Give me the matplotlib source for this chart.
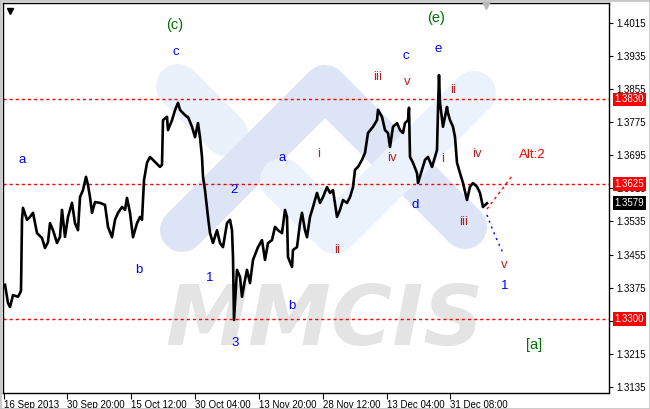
import matplotlib
matplotlib.use("Agg")
import matplotlib.pyplot as plt
import matplotlib.transforms as mtransforms
from matplotlib.patches import Rectangle

plt.rcParams['font.family'] = ['Liberation Sans', 'DejaVu Sans']

# price path (bar index, price)
bar_idx = [2, 5, 7, 10, 15, 17, 18, 19, 20, 24, 27, 30, 34, 39, 42, 45, 47, 50, 54, 57,
           59, 62, 65, 69, 72, 75, 77, 80, 83, 85, 87, 89, 92, 97, 102, 105, 109, 112, 115, 119,
           122, 124, 127, 130, 134, 137, 139, 141, 144, 147, 152, 157, 159, 160, 164, 165, 169, 172, 175, 177,
           180, 184, 185, 189, 192, 195, 197, 199, 200, 202, 205, 207, 210, 214, 217, 220, 224, 227, 229, 230,
           231, 234, 237, 239, 242, 244, 247, 250, 255, 259, 262, 265, 269, 272, 275, 279, 282, 284, 285, 289,
           290, 294, 297, 299, 302, 304, 307, 310, 314, 317, 320, 324, 327, 330, 334, 337, 340, 344, 347, 350,
           352, 355, 359, 362, 365, 370, 374, 375, 379, 382, 385, 387, 390, 394, 397, 400, 402, 405, 406, 407,
           410, 414, 415, 419, 422, 425, 429, 432, 434, 435, 436, 437, 440, 444, 445, 447, 450, 452, 454, 457,
           460, 464, 467, 470, 474, 477, 480, 484]
close = [1.3382, 1.3338, 1.3328, 1.3357, 1.3353, 1.3362, 1.3368, 1.3539, 1.3568, 1.3539, 1.3546, 1.3556, 1.3507, 1.3495, 1.3471, 1.3485, 1.3531, 1.3514, 1.3483, 1.3498,
         1.3563, 1.3498, 1.3546, 1.3580, 1.3531, 1.3514, 1.3594, 1.3611, 1.3643, 1.3623, 1.3594, 1.3556, 1.3582, 1.3580, 1.3575, 1.3522, 1.3497, 1.3539, 1.3556, 1.3570,
         1.3563, 1.3592, 1.3556, 1.3497, 1.3531, 1.3546, 1.3539, 1.3635, 1.3677, 1.3691, 1.3679, 1.3667, 1.3672, 1.3780, 1.3788, 1.3756, 1.3780, 1.3804, 1.3822, 1.3805,
         1.3797, 1.3788, 1.3788, 1.3764, 1.3739, 1.3773, 1.3739, 1.3691, 1.3643, 1.3611, 1.3546, 1.3507, 1.3483, 1.3514, 1.3483, 1.3473, 1.3531, 1.3539, 1.3514, 1.3449,
         1.3297, 1.3418, 1.3401, 1.3353, 1.3394, 1.3418, 1.3386, 1.3442, 1.3473, 1.3490, 1.3442, 1.3483, 1.3490, 1.3522, 1.3514, 1.3507, 1.3563, 1.3546, 1.3449, 1.3425,
         1.3466, 1.3473, 1.3531, 1.3556, 1.3514, 1.3497, 1.3546, 1.3570, 1.3604, 1.3580, 1.3594, 1.3618, 1.3604, 1.3611, 1.3546, 1.3563, 1.3587, 1.3580, 1.3594, 1.3618,
         1.3660, 1.3667, 1.3684, 1.3701, 1.3749, 1.3764, 1.3780, 1.3805, 1.3788, 1.3756, 1.3749, 1.3715, 1.3764, 1.3773, 1.3756, 1.3749, 1.3773, 1.3780, 1.3810, 1.3691,
         1.3677, 1.3652, 1.3628, 1.3660, 1.3684, 1.3691, 1.3667, 1.3691, 1.3708, 1.3805, 1.3889, 1.3822, 1.3764, 1.3812, 1.3797, 1.3780, 1.3764, 1.3739, 1.3677, 1.3652,
         1.3628, 1.3587, 1.3619, 1.3628, 1.3619, 1.3604, 1.3570, 1.3579]

last_price = 1.3579
levels = [1.3830, 1.3625, 1.3300]

# projected paths
alt_idx = [484, 509]
alt_price = [1.3565, 1.3645]
main_idx = [484, 489, 494, 500]
main_price = [1.3551, 1.3519, 1.3490, 1.3459]

x_ticks = [1, 64, 128, 192, 256, 320, 384, 447]
x_labels = ['16 Sep 2013', '30 Sep 20:00', '15 Oct 12:00', '30 Oct 04:00',
            '13 Nov 20:00', '28 Nov 12:00', '13 Dec 04:00', '31 Dec 08:00']
y_ticks = [1.4015, 1.3935, 1.3855, 1.3775, 1.3695, 1.3615, 1.3535, 1.3455, 1.3375, 1.3295, 1.3215, 1.3135]

BLUE = '#0000ff'
DRED = '#b22222'
GREEN = '#007000'
# wave labels: text, bar index, price, colour
wave_text = ['(c)', '(e)', 'c', 'a', 'b', '1', '2', '3', 'a', 'b', 'c', 'e', 'd', '1',
             'i', 'ii', 'iii', 'v', 'iv', 'ii', 'i', 'iv', 'iii', 'v', 'Alt:2', '[a]']
wave_x = [172, 433, 173, 19, 136, 207, 231, 232, 279, 289, 403, 435, 412, 502,
          316, 334, 375, 404, 389, 450, 440, 474, 461, 501, 529, 531]
wave_y = [1.4010, 1.4027, 1.3945, 1.3684, 1.3418, 1.3398, 1.3611, 1.3241, 1.3689, 1.3331, 1.3935, 1.3952, 1.3575, 1.3379,
          1.3698, 1.3466, 1.3884, 1.3872, 1.3689, 1.3853, 1.3686, 1.3698, 1.3534, 1.3430, 1.3696, 1.3236]
wave_col = [GREEN, GREEN, BLUE, BLUE, BLUE, BLUE, BLUE, BLUE, BLUE, BLUE, BLUE, BLUE, BLUE, BLUE,
            DRED, DRED, DRED, DRED, DRED, DRED, DRED, DRED, DRED, DRED, '#ff0000', GREEN]

fig = plt.figure(figsize=(6.5, 4.09), dpi=100)
ax = fig.add_axes([3 / 650, 16 / 409, 606 / 650, 390 / 409])
ax.set_xlim(0, 606)
ax.set_ylim(1.31203, 1.40633)

# watermark logo
ax.plot([0.2888, 0.368], [0.7872, 0.6641], transform=ax.transAxes, color='#eaf1fb',
        lw=31.7, solid_capstyle='round', zorder=0)
ax.plot([0.2954, 0.5314, 0.7624], [0.4179, 0.7846, 0.4256], transform=ax.transAxes, color='#dde4f5',
        lw=31.7, solid_capstyle='round', solid_joinstyle='round', zorder=0.1)
ax.plot([0.4604, 0.5479, 0.7772], [0.5462, 0.4128, 0.7692], transform=ax.transAxes, color='#ecf2fc',
        lw=31.7, solid_capstyle='round', solid_joinstyle='round', zorder=0.2)
ax.text(0.531, 0.123, 'MMCIS', transform=ax.transAxes, ha='center', va='baseline',
        fontsize=60, fontweight='bold', fontstyle='oblique', color='#e4e4e4',
        family='DejaVu Sans', zorder=0.3)

for lv in levels:
    ax.axhline(lv, color='#ff0000', lw=1, dashes=(2.2, 2.2), zorder=2)

ax.plot(bar_idx, close, color='black', lw=1.9, zorder=4)
ax.plot(alt_idx, alt_price, color='#ff0000', lw=1, dashes=(2, 2.5), zorder=3)
ax.plot(main_idx, main_price, color=BLUE, lw=1, dashes=(1.5, 3), zorder=3)

for t, x, y, c in zip(wave_text, wave_x, wave_y, wave_col):
    fs = 10.5 if t in ('(c)', '(e)', '[a]') else 9.5
    ax.text(x, y, t, color=c, fontsize=fs, ha='center', va='center', zorder=5)

# axes styling
for s in ax.spines.values():
    s.set_color('black')
    s.set_linewidth(1)
ax.yaxis.tick_right()
ax.set_yticks(y_ticks)
ax.set_yticklabels([f'{v:.4f}' for v in y_ticks])
ax.tick_params(axis='y', direction='out', length=3, width=0.8, pad=2, labelsize=7)
ax.set_xticks(x_ticks)
ax.set_xticklabels(x_labels)
ax.tick_params(axis='x', direction='out', length=4, width=0.8, pad=1, labelsize=7)
for lab in ax.get_xticklabels():
    lab.set_horizontalalignment('left')

trans = mtransforms.blended_transform_factory(ax.transAxes, ax.transData)
for lv in levels:
    ax.text(1.009, lv, f'{lv:.4f}', transform=trans, color='white', fontsize=7,
            ha='left', va='center', clip_on=False, zorder=6,
            bbox=dict(boxstyle='square,pad=0.2', fc='#ff0000', ec='none'))
ax.text(1.009, last_price, f'{last_price:.4f}', transform=trans, color='white', fontsize=7,
        ha='left', va='center', clip_on=False, zorder=6,
        bbox=dict(boxstyle='square,pad=0.2', fc='black', ec='none'))

ax.plot([0.0116], [0.979], marker='v', color='black', ms=4, transform=ax.transAxes, zorder=6)
ax.plot([0.797], [0.995], marker='v', color='#b8b8b8', ms=6, transform=ax.transAxes,
        clip_on=False, zorder=6)

fig.patches.append(Rectangle((0, 0), 1, 1, transform=fig.transFigure, fill=False,
                             ec='#c8c8c8', lw=2))

fig.savefig('out.png', dpi=100)
